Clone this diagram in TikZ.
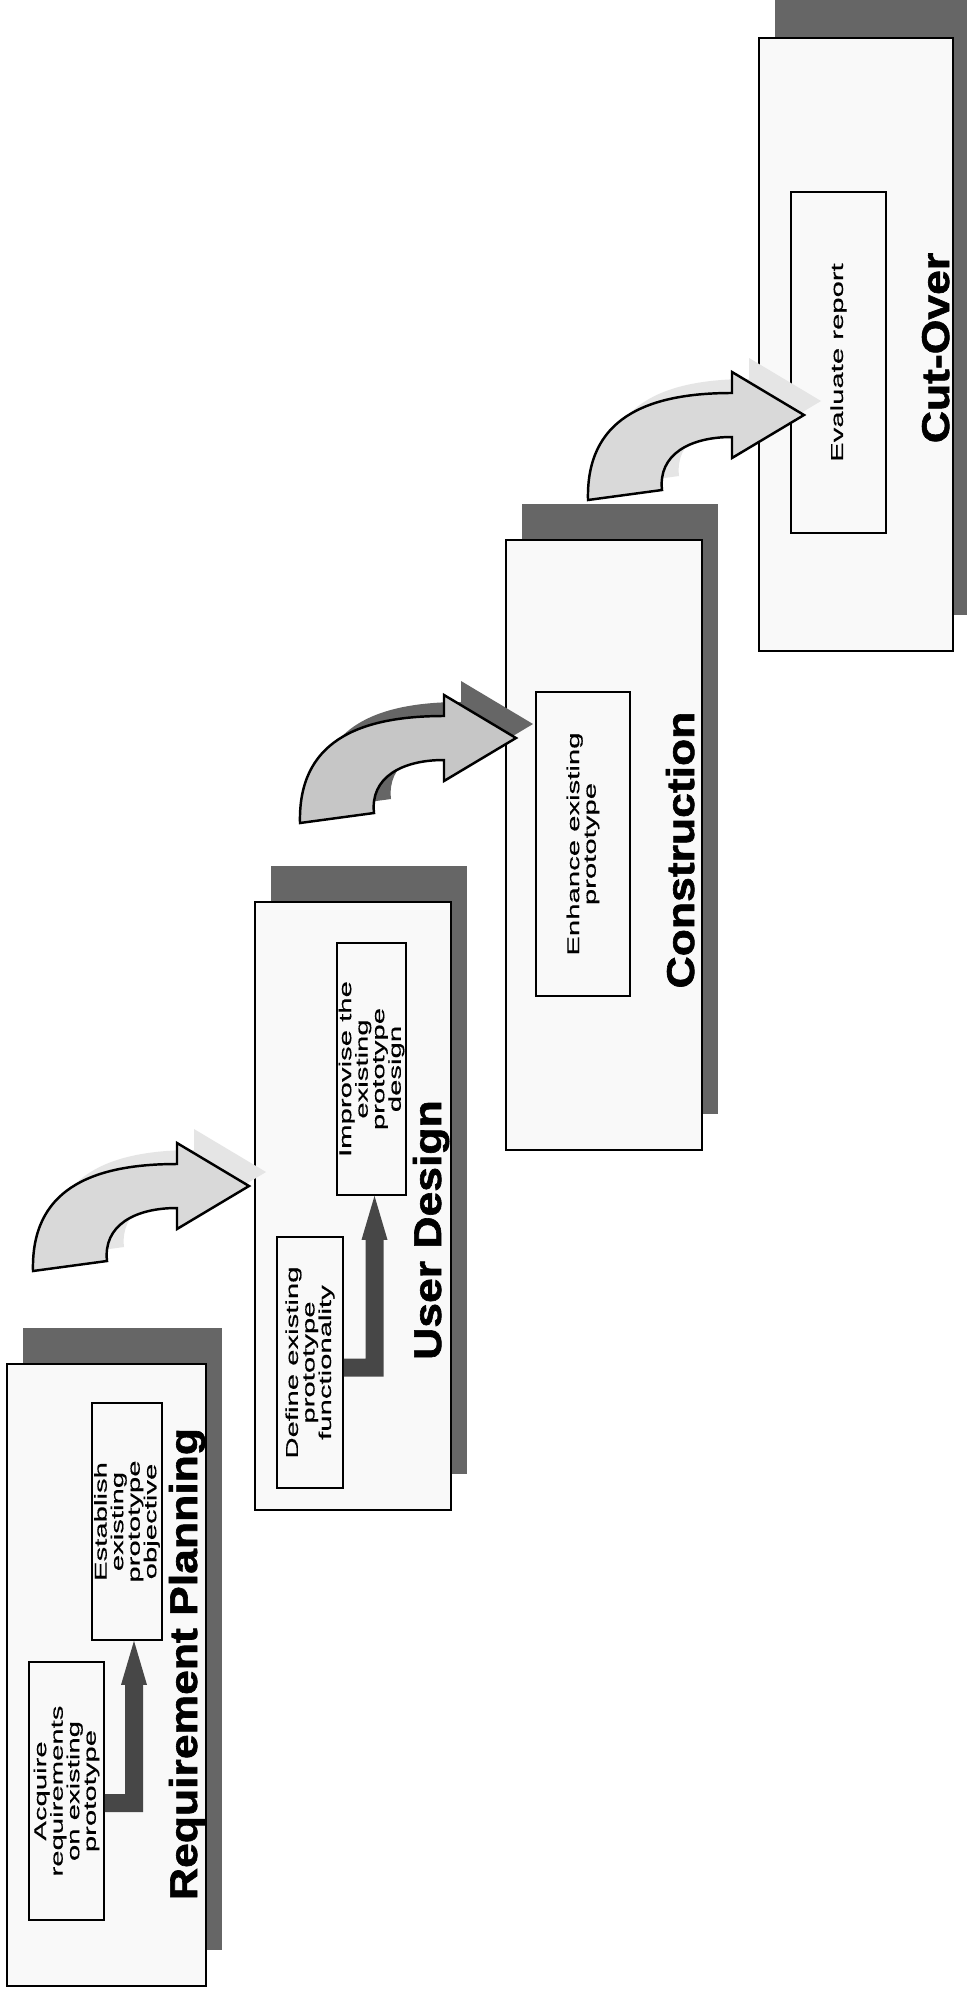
\documentclass[tikz,border=0pt]{standalone}
\usepackage{fontspec}
\setmainfont{Liberation Sans}
\newfontfamily\phasefont{Liberation Sans}[FakeStretch=1.15, BoldFeatures={FakeBold=1.6}]
\newfontfamily\taskfont{Liberation Sans}[FakeStretch=1.7, FakeBold=0.4]
\usetikzlibrary{calc}

\begin{document}
\begin{tikzpicture}[x=0.01cm, y=-0.01cm,
  panelbox/.style={draw=black, line width=0.55pt, fill=gray!5},
  panelshade/.style={fill=black!60},
  taskbox/.style={draw=black, line width=0.45pt, rotate=90, align=center, inner sep=0pt,
    font=\taskfont\fontsize{4.9pt}{4.7pt}\selectfont},
  phasetitle/.style={rotate=90, anchor=base, inner sep=0pt,
    font=\phasefont\bfseries\fontsize{11pt}{13pt}\selectfont},
  flowshape/.style={draw=black, line width=0.7pt, line join=miter, fill=gray!30},
  flowshade/.style={fill=gray!20},
  stepper/.style={fill=black!72},
  curvedarrow/.pic={
    \path[pic actions] (0,0) -- (-72,-43) -- (-72,-22)
      .. controls (-160,-22) and (-218,5) .. (-216,85) -- (-142,75)
      .. controls (-146,40) and (-115,22) .. (-72,22) -- (-72,43) -- cycle;}
]
\useasboundingbox (0,0) rectangle (967,2003);
\clip (0,0) rectangle (967,2003);
\fill[white] (0,0) rectangle (967,2003);

% phase panels with their drop shadows
\fill[panelshade] (23,1328) rectangle (222,1950);
\draw[panelbox] (7,1364) rectangle (206,1986);
\fill[panelshade] (271,866) rectangle (467,1474);
\draw[panelbox] (255,902) rectangle (451,1510);
\fill[panelshade] (522,504) rectangle (718,1114);
\draw[panelbox] (506,540) rectangle (702,1150);
\fill[panelshade] (775,-10) rectangle (971,615);
\draw[panelbox] (759,38) rectangle (953,651);

% tasks
\node[taskbox, minimum width=2.58cm, minimum height=0.75cm] (acq) at (66.5,1791)
  {Acquire\\requirements\\on existing\\prototype};
\node[taskbox, minimum width=2.37cm, minimum height=0.70cm] (est) at (127,1521.5)
  {Establish\\existing\\prototype\\objective};
\node[taskbox, minimum width=2.51cm, minimum height=0.66cm] (def) at (310,1362.5)
  {Define existing\\prototype\\functionality};
\node[taskbox, minimum width=2.52cm, minimum height=0.69cm] (imp) at (371.5,1069)
  {Improvise the\\existing\\prototype\\design};
\node[taskbox, minimum width=3.04cm, minimum height=0.94cm] (enh) at (583,844)
  {Enhance existing\\prototype};
\node[taskbox, minimum width=3.41cm, minimum height=0.95cm] (eva) at (838.5,362.5)
  {Evaluate report};

% phase titles
\node[phasetitle] (rp) at (197,1664) {Requirement Planning};
\node[phasetitle] (ud) at (441,1230) {User Design};
\node[phasetitle] (co) at (694,850) {Construction};
\node[phasetitle] (cu) at (949,348) {Cut-Over};

% step arrows inside the first two phases
\coordinate (s1) at ($(acq.south)+(0,12)$);
\coordinate (t1) at ($(est.west)+(7,0)$);
\fill[stepper] ($(s1)+(0,-9)$) -- ($(t1 |- s1)+(-9,-9)$)
  -- ($(t1)+(-9,44)$) -- ($(t1)+(-13,44)$) -- (t1) -- ($(t1)+(13,44)$)
  -- ($(t1)+(9,44)$) -- ($(t1 |- s1)+(9,9)$) -- ($(s1)+(0,9)$) -- cycle;
\coordinate (s2) at ($(def.south)+(0,5)$);
\coordinate (t2) at ($(imp.west)+(3,0)$);
\fill[stepper] ($(s2)+(0,-9)$) -- ($(t2 |- s2)+(-9,-9)$)
  -- ($(t2)+(-9,44)$) -- ($(t2)+(-13,44)$) -- (t2) -- ($(t2)+(13,44)$)
  -- ($(t2)+(9,44)$) -- ($(t2 |- s2)+(9,9)$) -- ($(s2)+(0,9)$) -- cycle;

% curved arrows between phases
\coordinate (tipA) at (249,1186);
\coordinate (tipB) at (516,738);
\coordinate (tipC) at (804,415);
\pic[flowshade] at ($(tipA)+(17,-14)$) {curvedarrow};
\pic[flowshape] (bendA) at (tipA) {curvedarrow};
\pic[fill=black!60] at ($(tipB)+(17,-14)$) {curvedarrow};
\pic[flowshape, fill=gray!45] (bendB) at (tipB) {curvedarrow};
\pic[flowshade] at ($(tipC)+(17,-14)$) {curvedarrow};
\pic[flowshape] (bendC) at (tipC) {curvedarrow};
\end{tikzpicture}
\end{document}
